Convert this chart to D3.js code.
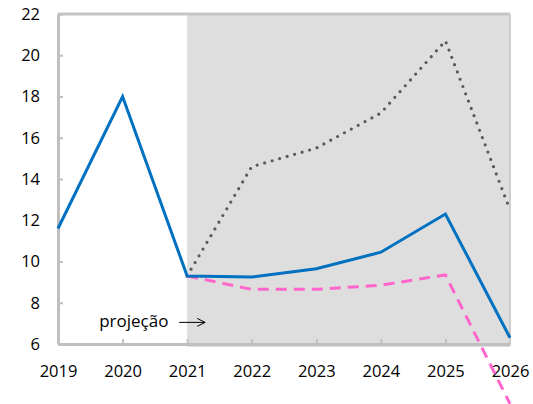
<!DOCTYPE html>
<html>
<head>
<meta charset="utf-8">
<script src="https://cdn.jsdelivr.net/npm/d3@7"></script>
<style>
body { margin: 0; background: #fff; }
text { font-family: "Open Sans", "Noto Sans", sans-serif; }
</style>
</head>
<body>
<svg id="chart" width="533" height="404"></svg>
<script>
// projection chart

var years = [2019, 2020, 2021, 2022, 2023, 2024, 2025, 2026];
var yTicks = [6, 8, 10, 12, 14, 16, 18, 20, 22];

var base = [11.6, 18.0, 9.3, 9.25, 9.65, 10.45, 12.3, 6.3];
var upper = [null, null, 9.3, 14.6, 15.5, 17.2, 20.7, 12.5];
var lower = [null, null, 9.3, 8.65, 8.65, 8.85, 9.35, 3.1];

var projStart = 2021;

var margin = {top: 14, right: 23, bottom: 60, left: 58};
var outerWidth = 533, outerHeight = 404;
var width = outerWidth - margin.left - margin.right;
var height = outerHeight - margin.top - margin.bottom;

var svg = d3.select("#chart");
var g = svg.append("g")
    .attr("transform", "translate(" + margin.left + "," + margin.top + ")");

var x = d3.scaleLinear().domain([2019, 2026]).range([0, width]);
var y = d3.scaleLinear().domain([6, 22]).range([height, 0]);

// shaded projection area
g.append("rect")
    .attr("x", x(projStart))
    .attr("y", 0)
    .attr("width", x(2026) - x(projStart))
    .attr("height", height + 3)
    .attr("fill", "#dedede");

// frame
g.append("line").attr("x1", 0).attr("x2", width).attr("y1", 0).attr("y2", 0)
    .attr("stroke", "#c6c6c6").attr("stroke-width", 3);
g.append("line").attr("x1", width).attr("x2", width).attr("y1", 0).attr("y2", height)
    .attr("stroke", "#cccccc").attr("stroke-width", 2);

var yAxis = d3.axisLeft(y).tickValues(yTicks).tickSizeInner(-5).tickSizeOuter(0).tickPadding(18);
var xAxis = d3.axisBottom(x).tickValues(years).tickFormat(d3.format("d"))
    .tickSizeInner(-5).tickSizeOuter(0).tickPadding(21);

function styleAxis(sel) {
    sel.select(".domain").attr("stroke", "#bfbfbf").attr("stroke-width", 3);
    sel.selectAll(".tick line").attr("stroke", "#bfbfbf").attr("stroke-width", 2);
    sel.selectAll(".tick text").attr("fill", "#000").style("font-size", "16.5px")
        .style("font-family", "'Open Sans', 'Noto Sans', sans-serif");
}

g.append("g").attr("class", "axis axis--y").call(yAxis).call(styleAxis);
g.append("g").attr("class", "axis axis--x")
    .attr("transform", "translate(0," + height + ")")
    .call(xAxis).call(styleAxis);
g.selectAll(".axis--x .tick").filter(function(d) { return d == 2019 || d == 2026; })
    .select("line").remove();

function series(vals) {
    return years.map(function(yr, i) { return {year: yr, v: vals[i]}; })
        .filter(function(d) { return d.v != null; });
}

var line = d3.line()
    .x(function(d) { return x(d.year); })
    .y(function(d) { return y(d.v); });

g.append("path")
    .datum(series(lower))
    .attr("fill", "none")
    .attr("stroke", "#ff66cc")
    .attr("stroke-width", 3)
    .attr("stroke-dasharray", "11,7")
    .attr("d", line);

g.append("path")
    .datum(series(upper))
    .attr("fill", "none")
    .attr("stroke", "#595959")
    .attr("stroke-width", 3.2)
    .attr("stroke-linecap", "round")
    .attr("stroke-dasharray", "0,7.8")
    .attr("d", line);

g.append("path")
    .datum(series(base))
    .attr("fill", "none")
    .attr("stroke", "#0070c0")
    .attr("stroke-width", 3)
    .attr("stroke-linejoin", "miter")
    .attr("d", line);

// projection label
g.append("text")
    .attr("x", x(projStart) - 88)
    .attr("y", y(7) + 4)
    .attr("fill", "#000")
    .style("font-size", "17px")
    .text("projeção");

g.append("line")
    .attr("x1", x(projStart) - 8).attr("x2", x(projStart) + 18)
    .attr("y1", y(7) - 1).attr("y2", y(7) - 1)
    .attr("stroke", "#000").attr("stroke-width", 1);
g.append("path")
    .attr("d", "M" + (x(projStart) + 10) + "," + (y(7) - 5) + " L" + (x(projStart) + 18) + "," + (y(7) - 1) +
        " L" + (x(projStart) + 10) + "," + (y(7) + 3))
    .attr("fill", "none").attr("stroke", "#000").attr("stroke-width", 1);
</script>
</body>
</html>
